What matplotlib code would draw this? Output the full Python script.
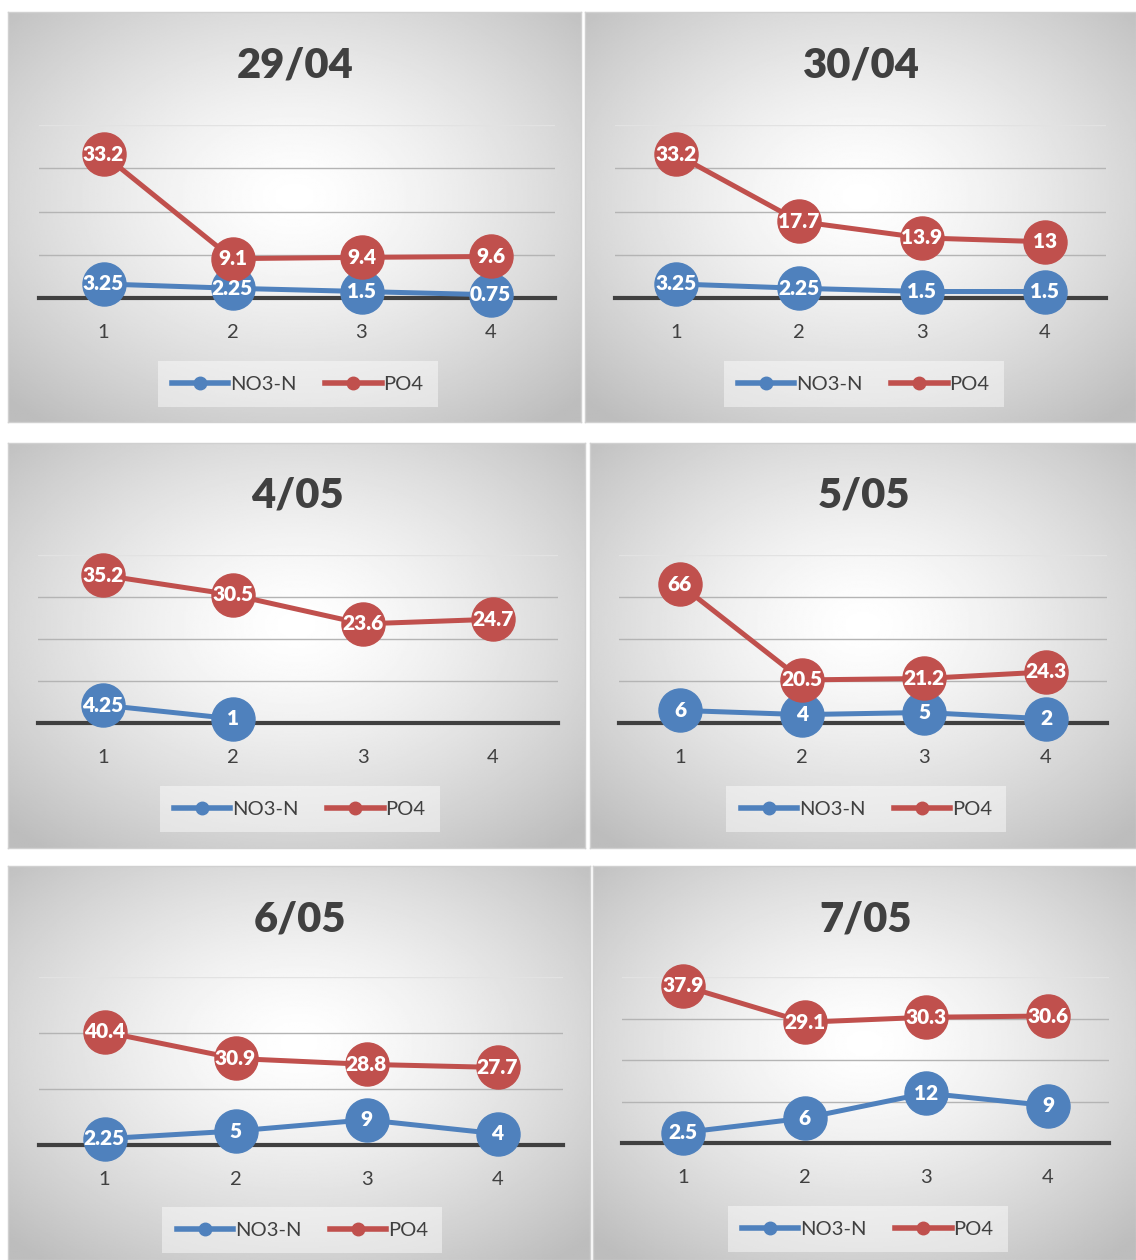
import numpy as np
import matplotlib.pyplot as plt
from matplotlib.lines import Line2D

plt.rcParams['font.family'] = ['Lato', 'DejaVu Sans']

# Dados
titulos = ['29/04', '30/04', '4/05', '5/05', '6/05', '7/05']
pontos = [1, 2, 3, 4]
no3_n = [
    [3.25, 2.25, 1.5, 0.75],
    [3.25, 2.25, 1.5, 1.5],
    [4.25, 1, np.nan, np.nan],
    [6, 4, 5, 2],
    [2.25, 5, 9, 4],
    [2.5, 6, 12, 9],
]
po4 = [
    [33.2, 9.1, 9.4, 9.6],
    [33.2, 17.7, 13.9, 13],
    [35.2, 30.5, 23.6, 24.7],
    [66, 20.5, 21.2, 24.3],
    [40.4, 30.9, 28.8, 27.7],
    [37.9, 29.1, 30.3, 30.6],
]
y_max = [40, 40, 40, 80, 60, 40]
y_passo = [10, 10, 10, 20, 20, 10]

AZUL = '#4f81bd'
VERMELHO = '#c0504d'
CINZA = '#404040'

W, H = 1136, 1260
# retangulos em pixels: (x0, y0, x1, y1) do painel e da area do grafico
paineis = [(8, 12, 581, 422), (585, 12, 1136, 422),
           (8, 443, 585, 848), (590, 443, 1136, 848),
           (8, 866, 590, 1260), (593, 866, 1136, 1260)]
areas = [(39, 125, 555, 298), (615, 125, 1106, 298),
         (38, 555, 558, 723), (619, 555, 1107, 723),
         (39, 977, 563, 1145), (622, 977, 1109, 1143)]
titulo_y = [65, 65, 496, 496, 919, 919]
legenda_y = [384, 384, 809, 809, 1230, 1229]


def rect(x0, y0, x1, y1):
    return [x0 / W, 1 - y1 / H, (x1 - x0) / W, (y1 - y0) / H]


# fundo em gradiente radial
gx, gy = np.meshgrid(np.linspace(-1, 1, 300), np.linspace(-1, 1, 300))
r = np.clip(np.sqrt(gx**2 + (gy + 0.1)**2) / np.sqrt(2), 0, 1)
gradiente = 1 - 0.26 * r**1.4

fig = plt.figure(figsize=(W / 100, H / 100), dpi=100)

for i in range(6):
    px0, py0, px1, py1 = paineis[i]
    bg = fig.add_axes(rect(*paineis[i]))
    bg.imshow(gradiente, cmap='gray', vmin=0, vmax=1, extent=[0, 1, 0, 1],
              aspect='auto', interpolation='bilinear')
    bg.set_xticks([])
    bg.set_yticks([])
    for s in bg.spines.values():
        s.set_color('#d0d0d0')
        s.set_linewidth(1)

    ax = fig.add_axes(rect(*areas[i]))
    ax.set_facecolor('none')
    ax.set_xlim(0.5, 4.5)
    ax.set_ylim(0, y_max[i])
    niveis = np.arange(y_passo[i], y_max[i] + 0.1, y_passo[i])
    for n in niveis:
        cor = '#e2e2e2' if n == niveis[-1] else '#b4b4b4'
        ax.axhline(n, color=cor, lw=1, zorder=0)
    ax.axhline(0, color=CINZA, lw=3, zorder=1, clip_on=False)

    ax.plot(pontos, no3_n[i], color=AZUL, lw=3.6, marker='o', ms=31,
            mec=AZUL, clip_on=False, zorder=3)
    ax.plot(pontos, po4[i], color=VERMELHO, lw=3.6, marker='o', ms=31,
            mec=VERMELHO, clip_on=False, zorder=4)
    for serie in (no3_n[i], po4[i]):
        for x, v in zip(pontos, serie):
            if np.isnan(v):
                continue
            ax.annotate(f'{v:g}', (x, v), ha='center', va='center',
                        color='white', fontweight='heavy', fontsize=15,
                        zorder=6, annotation_clip=False)

    ax.set_xticks(pontos)
    ax.set_xticklabels([str(p) for p in pontos], fontsize=14.5, color=CINZA)
    ax.tick_params(axis='x', length=0, pad=19)
    ax.set_yticks([])
    for s in ax.spines.values():
        s.set_visible(False)

    fig.text((px0 + px1) / 2 / W + 0.001, 1 - titulo_y[i] / H, titulos[i],
             ha='center', va='center', fontsize=30, fontweight='heavy',
             color=CINZA)

    handles = [Line2D([], [], color=AZUL, lw=4, marker='o', ms=9),
               Line2D([], [], color=VERMELHO, lw=4, marker='o', ms=9)]
    leg = fig.legend(handles, ['NO3-N', 'PO4'], loc='center',
                     bbox_to_anchor=((px0 + px1) / 2 / W + 0.003,
                                     1 - legenda_y[i] / H),
                     ncol=2, fontsize=14.5, frameon=True, fancybox=False,
                     facecolor='white', edgecolor='none', framealpha=0.45,
                     handlelength=2.8, handletextpad=0.1, columnspacing=1.4,
                     borderpad=0.7)
    for t in leg.get_texts():
        t.set_color(CINZA)

fig.savefig('out.png', dpi=100, facecolor='white')
